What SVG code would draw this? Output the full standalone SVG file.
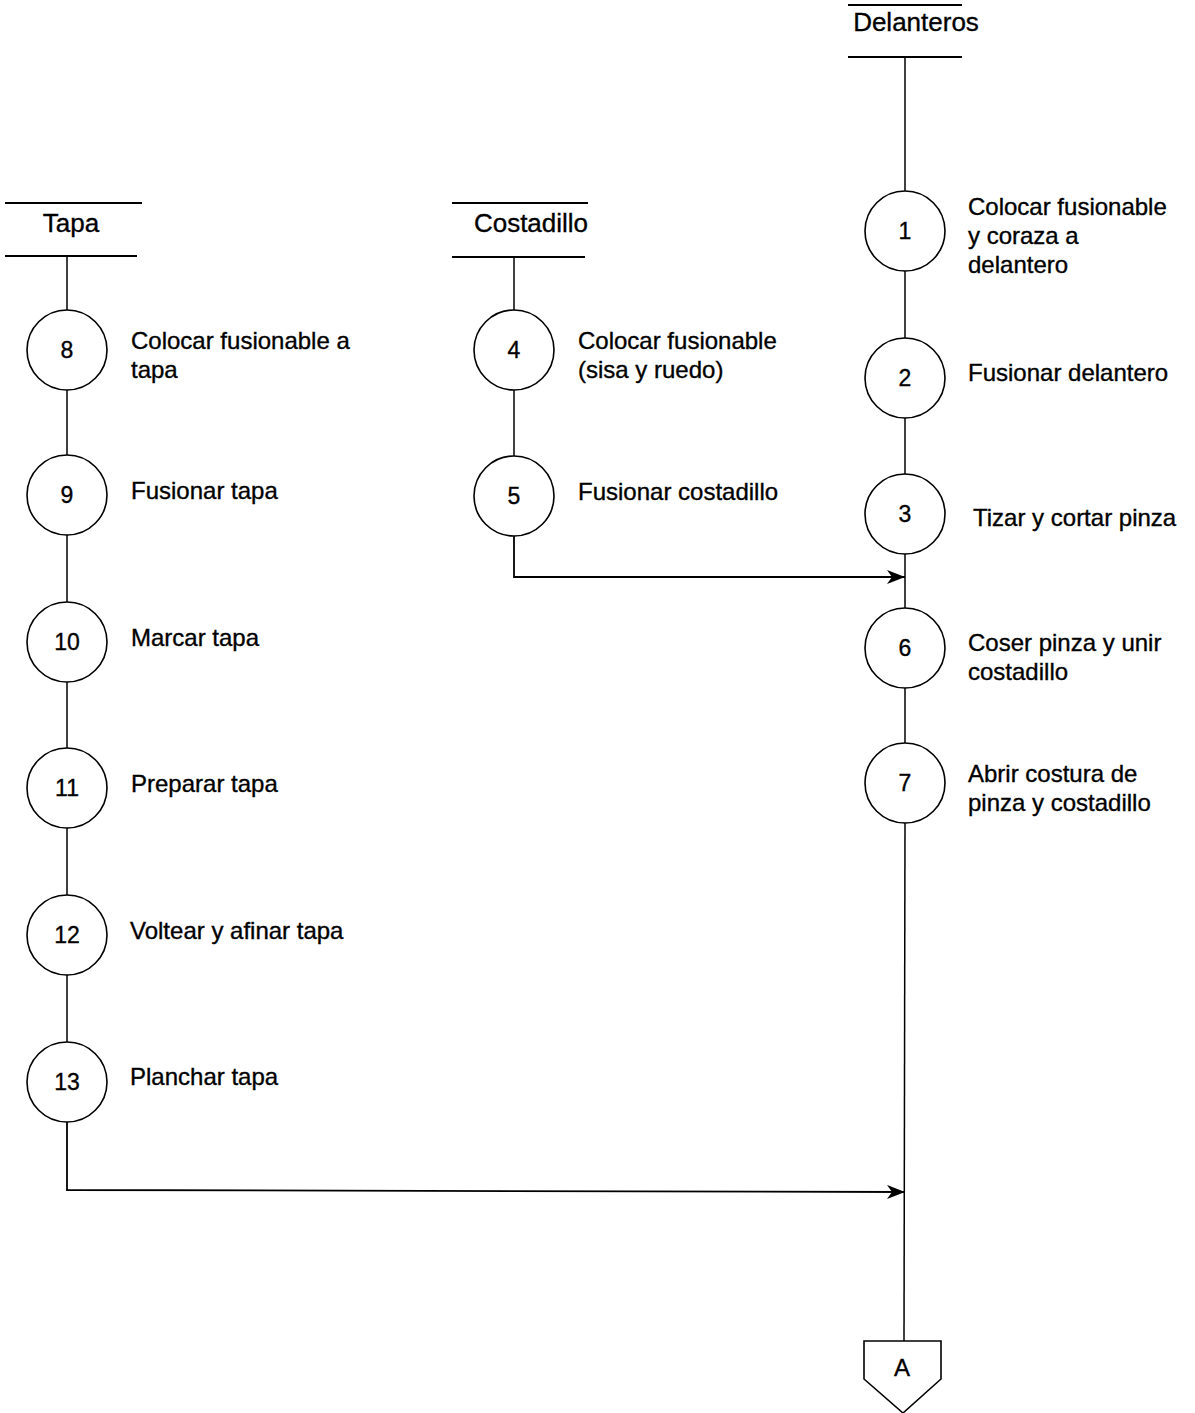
<svg xmlns="http://www.w3.org/2000/svg" width="1195" height="1413" viewBox="0 0 1195 1413">
  <defs>
    <marker id="arrow" viewBox="0 0 18 14" refX="18" refY="7" markerWidth="18" markerHeight="14" markerUnits="userSpaceOnUse" orient="auto">
      <path d="M0,0 L18,7 L0,14 L5,7 Z" fill="#000"/>
    </marker>
  </defs>
  <style>
    text { font-family: "Liberation Sans", Arial, sans-serif; fill: #000; stroke: #000; stroke-width: 0.35; }
    .hdr { font-size: 26px; text-anchor: middle; }
    .num { font-size: 23px; text-anchor: middle; }
    .lbl { font-size: 24px; }
    .rule { stroke: #000; stroke-width: 1.8; fill: none; }
    .op circle { fill: #fff; stroke: #000; stroke-width: 1.6; }
    .flow line, .flow path { stroke: #000; stroke-width: 1.5; fill: none; }
    .flow .arr { stroke-width: 1.8; }
  </style>
  <rect width="1195" height="1413" fill="#fff"/>

  <!-- vertical flow lines and joining arrows -->
  <g id="connectors" class="flow">
    <line x1="905" y1="57" x2="905" y2="192"/>
    <line x1="905" y1="271" x2="905" y2="338"/>
    <line x1="905" y1="418" x2="905" y2="474"/>
    <line x1="905" y1="554" x2="905" y2="608"/>
    <line x1="905" y1="688" x2="905" y2="743"/>
    <line x1="905" y1="823" x2="904" y2="1341"/>
    <line x1="67" y1="256" x2="67" y2="310"/>
    <line x1="67" y1="390" x2="67" y2="455"/>
    <line x1="67" y1="535" x2="67" y2="602"/>
    <line x1="67" y1="682" x2="67" y2="748"/>
    <line x1="67" y1="828" x2="67" y2="895"/>
    <line x1="67" y1="975" x2="67" y2="1042"/>
    <line x1="514" y1="257" x2="514" y2="310"/>
    <line x1="514" y1="390" x2="514" y2="456"/>
    <path class="arr" d="M514,536 L514,577 L905,577" marker-end="url(#arrow)"/>
    <path class="arr" d="M67,1122 L67,1190 L905,1192" marker-end="url(#arrow)"/>
  </g>

  <!-- column headers -->
  <g id="hdr-delanteros">
    <line class="rule" x1="848" y1="5" x2="962" y2="5"/>
    <text class="hdr" x="916" y="31">Delanteros</text>
    <line class="rule" x1="848" y1="57" x2="962" y2="57"/>
  </g>
  <g id="hdr-tapa">
    <line class="rule" x1="5" y1="203" x2="142" y2="203"/>
    <text class="hdr" x="71" y="232">Tapa</text>
    <line class="rule" x1="5" y1="256" x2="137" y2="256"/>
  </g>
  <g id="hdr-costadillo">
    <line class="rule" x1="452" y1="203" x2="588" y2="203"/>
    <text class="hdr" x="531" y="232">Costadillo</text>
    <line class="rule" x1="452" y1="257" x2="585" y2="257"/>
  </g>

  <!-- Delanteros operations -->
  <g id="op1" class="op">
    <circle cx="905" cy="231" r="40"/>
    <text class="num" x="905" y="239">1</text>
    <text class="lbl" x="968" y="215">Colocar fusionable</text>
    <text class="lbl" x="968" y="244">y coraza a</text>
    <text class="lbl" x="968" y="273">delantero</text>
  </g>
  <g id="op2" class="op">
    <circle cx="905" cy="378" r="40"/>
    <text class="num" x="905" y="386">2</text>
    <text class="lbl" x="968" y="381">Fusionar delantero</text>
  </g>
  <g id="op3" class="op">
    <circle cx="905" cy="514" r="40"/>
    <text class="num" x="905" y="522">3</text>
    <text class="lbl" x="973" y="526">Tizar y cortar pinza</text>
  </g>
  <g id="op6" class="op">
    <circle cx="905" cy="648" r="40"/>
    <text class="num" x="905" y="656">6</text>
    <text class="lbl" x="968" y="651">Coser pinza y unir</text>
    <text class="lbl" x="968" y="680">costadillo</text>
  </g>
  <g id="op7" class="op">
    <circle cx="905" cy="783" r="40"/>
    <text class="num" x="905" y="791">7</text>
    <text class="lbl" x="968" y="782">Abrir costura de</text>
    <text class="lbl" x="968" y="811">pinza y costadillo</text>
  </g>

  <!-- Costadillo operations -->
  <g id="op4" class="op">
    <circle cx="514" cy="350" r="40"/>
    <text class="num" x="514" y="358">4</text>
    <text class="lbl" x="578" y="349">Colocar fusionable</text>
    <text class="lbl" x="578" y="378">(sisa y ruedo)</text>
  </g>
  <g id="op5" class="op">
    <circle cx="514" cy="496" r="40"/>
    <text class="num" x="514" y="504">5</text>
    <text class="lbl" x="578" y="500">Fusionar costadillo</text>
  </g>

  <!-- Tapa operations -->
  <g id="op8" class="op">
    <circle cx="67" cy="350" r="40"/>
    <text class="num" x="67" y="358">8</text>
    <text class="lbl" x="131" y="349">Colocar fusionable a</text>
    <text class="lbl" x="131" y="378">tapa</text>
  </g>
  <g id="op9" class="op">
    <circle cx="67" cy="495" r="40"/>
    <text class="num" x="67" y="503">9</text>
    <text class="lbl" x="131" y="499">Fusionar tapa</text>
  </g>
  <g id="op10" class="op">
    <circle cx="67" cy="642" r="40"/>
    <text class="num" x="67" y="650">10</text>
    <text class="lbl" x="131" y="646">Marcar tapa</text>
  </g>
  <g id="op11" class="op">
    <circle cx="67" cy="788" r="40"/>
    <text class="num" x="67" y="796">11</text>
    <text class="lbl" x="131" y="792">Preparar tapa</text>
  </g>
  <g id="op12" class="op">
    <circle cx="67" cy="935" r="40"/>
    <text class="num" x="67" y="943">12</text>
    <text class="lbl" x="130" y="939">Voltear y afinar tapa</text>
  </g>
  <g id="op13" class="op">
    <circle cx="67" cy="1082" r="40"/>
    <text class="num" x="67" y="1090">13</text>
    <text class="lbl" x="130" y="1085">Planchar tapa</text>
  </g>

  <!-- off-page connector -->
  <g id="conn-A">
    <path d="M864,1341 L941,1341 L941,1379 L903,1413 L864,1379 Z" fill="#fff" stroke="#000" stroke-width="1.6"/>
    <text class="num" x="902" y="1376" style="font-size:24px">A</text>
  </g>
</svg>
